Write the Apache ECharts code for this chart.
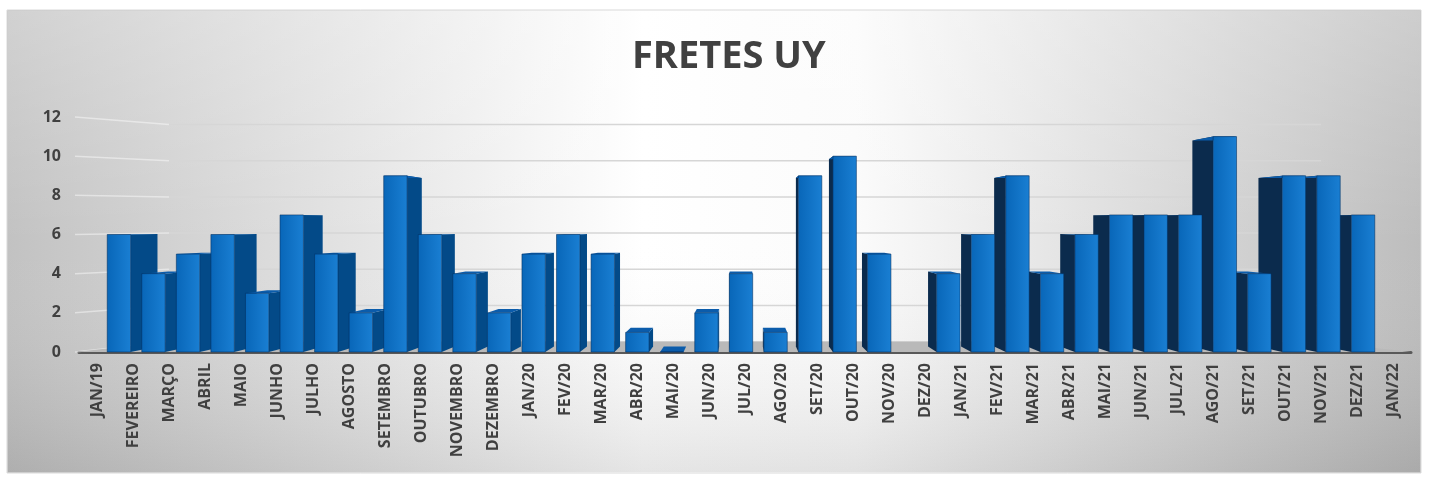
<!DOCTYPE html>
<html>
<head>
<meta charset="utf-8">
<title>FRETES UY</title>
<style>
  html, body { margin: 0; padding: 0; background: #fff; }
  #chart { width: 1429px; height: 481px; }
</style>
</head>
<body>
<div id="chart"></div>
<script src="https://cdn.jsdelivr.net/npm/echarts@6/dist/echarts.min.js"></script>
<script>
var MESES = ['JAN/19', 'FEVEREIRO', 'MARÇO', 'ABRIL', 'MAIO', 'JUNHO', 'JULHO', 'AGOSTO', 'SETEMBRO', 'OUTUBRO', 'NOVEMBRO', 'DEZEMBRO',
  'JAN/20', 'FEV/20', 'MAR/20', 'ABR/20', 'MAI/20', 'JUN/20', 'JUL/20', 'AGO/20', 'SET/20', 'OUT/20', 'NOV/20', 'DEZ/20',
  'JAN/21', 'FEV/21', 'MAR/21', 'ABR/21', 'MAI/21', 'JUN/21', 'JUL/21', 'AGO/21', 'SET/21', 'OUT/21', 'NOV/21', 'DEZ/21', 'JAN/22'];
var FRETES = [6, 4, 5, 6, 3, 7, 5, 2, 9, 6, 4, 2,
  5, 6, 5, 1, 0, 2, 4, 1, 9, 10, 5, null,
  4, 6, 9, 4, 6, 7, 7, 7, 11, 4, 9, 9, 7];
var Y_TICKS = [0, 2, 4, 6, 8, 10, 12];

var corTexto = '#404040';

// parede do fundo (efeito 3d do excel)
function fundoParede(cs, y) {
  var vy = cs.y + cs.height * 0.42;
  return vy + (y - vy) * 0.924;
}

function linhaParede(params, api) {
  var cs = params.coordSys;
  var yf = api.coord([0, api.value(1)])[1];
  var yb = fundoParede(cs, yf);
  var xL = cs.x - 4;
  var bL = cs.x + 90, bR = cs.x + cs.width - 90;
  return {
    type: 'group',
    children: [
      { type: 'polyline', shape: { points: [[bL, yb], [bR, yb]] }, style: { stroke: '#d6d6d6', lineWidth: 1.5, fill: null } },
      { type: 'polyline', shape: { points: [[xL, yf], [bL, yb]] }, style: { stroke: 'rgba(255,255,255,0.45)', lineWidth: 1.5, fill: null } }
    ]
  };
}

function chao(params, api) {
  var cs = params.coordSys;
  var y0 = api.coord([0, 0])[1];
  var yb = fundoParede(cs, y0);
  return {
    type: 'polygon',
    shape: { points: [[cs.x - 4, y0], [cs.x + cs.width, y0], [cs.x + cs.width - 90, yb], [cs.x + 90, yb]] },
    style: { fill: '#b9b9b9' }
  };
}

var corFrente = new echarts.graphic.LinearGradient(0, 0, 1, 0, [
  { offset: 0, color: '#0866b8' },
  { offset: 1, color: '#1a7fd3' }
]);

function barra3d(params, api) {
  var v = api.value(1);
  if (v === null || isNaN(v)) return null;
  var cs = params.coordSys;
  var meio = cs.x + cs.width / 2;
  var vx = meio - 4, vy = cs.y + cs.height * 0.46;
  var s = 0.956;
  var topo = api.coord([api.value(0), v]);
  var base = api.coord([api.value(0), 0])[1];
  var cx = vx + (topo[0] - meio) * 0.96;
  var w = api.size([1, 0])[0] * 0.65;
  var xl = cx - w / 2, xr = cx + w / 2, yt = topo[1];
  function atras(x, y) { return [vx + (x - vx) * s, vy + (y - vy) * s]; }
  var ex = cx < vx ? xr : xl;
  var z = 1000 - Math.round(Math.abs(cx - vx));
  var lado = cx < vx ? '#034a88' : '#0b2b4d';
  return {
    type: 'group',
    children: [
      { type: 'polygon', z2: z, shape: { points: [[ex, yt], atras(ex, yt), atras(ex, base), [ex, base]] }, style: { fill: lado } },
      { type: 'polygon', z2: z, shape: { points: [[xl, yt], [xr, yt], atras(xr, yt), atras(xl, yt)] }, style: { fill: '#0b5cab' } },
      { type: 'rect', z2: z + 0.5, shape: { x: xl, y: yt, width: w, height: base - yt },
        style: { fill: corFrente, stroke: 'rgba(0,45,95,0.55)', lineWidth: 1 } }
    ]
  };
}

var chart = echarts.init(document.getElementById('chart'));
var option = {
  animation: false,
  textStyle: { fontFamily: 'Open Sans' },
  graphic: [
    {
      type: 'rect', silent: true, z: -10,
      shape: { x: 7, y: 10, width: 1414, height: 463 },
      style: {
        fill: new echarts.graphic.LinearGradient(0, 0, 1, 0, [
          { offset: 0, color: '#c2c2c2' },
          { offset: 0.45, color: '#ffffff' },
          { offset: 0.6, color: '#fbfbfb' },
          { offset: 1, color: '#bdbdbd' }
        ]),
        stroke: '#d9d9d9', lineWidth: 1
      }
    },
    {
      type: 'rect', silent: true, z: -9,
      shape: { x: 8, y: 11, width: 1412, height: 461 },
      style: {
        fill: new echarts.graphic.LinearGradient(0, 0, 0, 1, [
          { offset: 0, color: 'rgba(255,255,255,0.25)' },
          { offset: 0.5, color: 'rgba(255,255,255,0)' },
          { offset: 1, color: 'rgba(0,0,0,0.10)' }
        ])
      }
    }
  ],
  title: {
    text: 'FRETES UY',
    left: 627,
    top: 33,
    textStyle: { fontFamily: 'Open Sans', fontSize: 38, fontWeight: 'bold', color: corTexto }
  },
  grid: { left: 79, right: 18, top: 117, bottom: 129 },
  xAxis: {
    type: 'category',
    data: MESES,
    offset: 3,
    axisLine: { lineStyle: { color: '#595959', width: 3 } },
    axisTick: { show: false },
    axisLabel: { interval: 0, rotate: 90, margin: 8, fontSize: 16, fontWeight: 'bold', color: corTexto, fontFamily: 'Open Sans' }
  },
  yAxis: {
    type: 'value',
    min: 0,
    max: 12,
    interval: 2,
    axisLine: { show: false },
    axisTick: { show: false },
    splitLine: { show: false },
    axisLabel: { margin: 18, fontSize: 16, fontWeight: 'bold', color: corTexto, fontFamily: 'Open Sans' }
  },
  series: [
    { type: 'custom', z: 1, renderItem: linhaParede, silent: true, encode: { x: 0, y: 1 },
      data: Y_TICKS.map(function (t) { return [0, t]; }) },
    { type: 'custom', z: 1, renderItem: chao, silent: true, encode: { x: 0, y: 1 }, data: [[0, 0]] },
    { type: 'custom', z: 3, renderItem: barra3d, encode: { x: 0, y: 1 },
      data: FRETES.map(function (v, i) { return [i, v]; }) }
  ]
};
chart.setOption(option);
</script>
</body>
</html>
